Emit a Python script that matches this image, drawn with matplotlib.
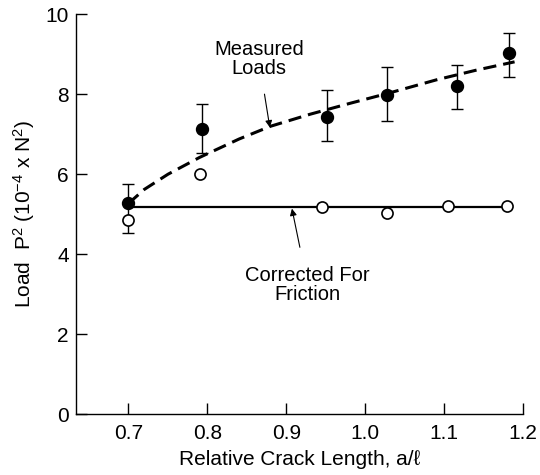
import matplotlib
matplotlib.use("Agg")
import matplotlib.pyplot as plt

plt.rcParams['font.family'] = ['Liberation Sans', 'DejaVu Sans']
plt.rcParams['mathtext.fontset'] = 'custom'
plt.rcParams['mathtext.rm'] = 'Liberation Sans'
plt.rcParams['mathtext.default'] = 'regular'

# measured loads (filled) with error bars
meas_x = [0.70, 0.793, 0.951, 1.028, 1.116, 1.182]
meas_y = [5.27, 7.12, 7.42, 7.99, 8.21, 9.04]
meas_hi = [5.75, 7.75, 8.10, 8.68, 8.72, 9.52]
meas_lo = [4.52, 6.53, 6.83, 7.33, 7.62, 8.43]

# corrected for friction (open)
corr_x = [0.70, 0.79, 0.945, 1.028, 1.105, 1.18]
corr_y = [4.85, 6.00, 5.17, 5.02, 5.21, 5.21]

# dashed fit through measured loads
fit_x = [0.70, 0.72, 0.75, 0.79, 0.84, 0.88, 0.93, 0.98, 1.03, 1.09, 1.14, 1.189]
fit_y = [5.27, 5.62, 6.00, 6.42, 6.88, 7.20, 7.50, 7.77, 8.03, 8.36, 8.60, 8.81]

# flat line for corrected loads
flat_x = [0.70, 1.18]
flat_y = [5.17, 5.17]

xticks = [0.7, 0.8, 0.9, 1.0, 1.1, 1.2]
xlabels = ["0.7", "0.8", "0.9", "1.0", "1.1", "1.2"]
yticks = [0, 2, 4, 6, 8, 10]

fig = plt.figure(figsize=(5.4, 4.75), dpi=100)
ax = fig.add_axes([0.140, 0.128, 0.829, 0.842])

ax.plot(fit_x, fit_y, color="black", lw=2.2, linestyle=(0, (4.3, 2.3)), zorder=2)
ax.plot(flat_x, flat_y, color="black", lw=1.6, zorder=2)

yerr = [[y - lo for y, lo in zip(meas_y, meas_lo)],
        [hi - y for y, hi in zip(meas_y, meas_hi)]]
ax.errorbar(meas_x, meas_y, yerr=yerr, fmt="o", color="black", ms=8.6,
            ecolor="black", elinewidth=1.0, capsize=4.5, capthick=1.0, zorder=3)
ax.plot(corr_x, corr_y, "o", ms=8, mfc="white", mec="black", mew=1.2, zorder=4)

ax.annotate("Measured\nLoads", xy=(0.879, 7.17), xytext=(0.865, 8.89),
            ha="center", va="center", fontsize=14.5, linespacing=1.0,
            arrowprops=dict(arrowstyle="-|>", lw=0.8, color="black",
                            mutation_scale=10, shrinkA=10, shrinkB=0))
ax.annotate("Corrected For\nFriction", xy=(0.907, 5.14), xytext=(0.927, 3.22),
            ha="center", va="center", fontsize=14.5, linespacing=1.0,
            arrowprops=dict(arrowstyle="-|>", lw=0.8, color="black",
                            mutation_scale=10, shrinkA=12, shrinkB=0))

ax.set_xlim(0.633, 1.2)
ax.set_ylim(0, 10)
ax.set_xticks(xticks)
ax.set_xticklabels(xlabels)
ax.set_yticks(yticks)
ax.spines["top"].set_visible(False)
ax.spines["right"].set_visible(False)
for s in ["left", "bottom"]:
    ax.spines[s].set_linewidth(1.0)
ax.tick_params(axis="both", direction="in", length=8, width=1.0, labelsize=15)
ax.tick_params(axis="x", pad=7)
ax.tick_params(axis="y", pad=5)

ax.set_xlabel("Relative Crack Length, a/ℓ", fontsize=15, labelpad=5)
ax.set_ylabel("Load  P$^2$ (10$^{-4}$ x N$^2$)", fontsize=15, labelpad=6)

fig.savefig("out.png", dpi=100)
